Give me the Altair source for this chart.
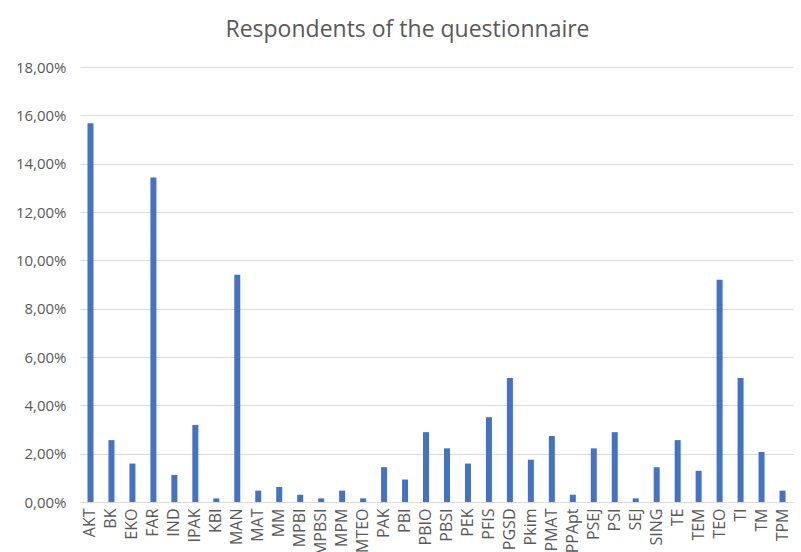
import altair as alt
import pandas as pd

categories = ["AKT", "BK", "EKO", "FAR", "IND", "IPAK", "KBI", "MAN", "MAT", "MM",
              "MPBI", "MPBSI", "MPM", "MTEO", "PAK", "PBI", "PBIO", "PBSI", "PEK", "PFIS",
              "PGSD", "Pkim", "PMAT", "PPApt", "PSEJ", "PSI", "SEJ", "SING", "TE", "TEM",
              "TEO", "TI", "TM", "TPM"]
values = [15.67, 2.56, 1.59, 13.43, 1.12, 3.19, 0.15, 9.40, 0.47, 0.62,
          0.30, 0.15, 0.47, 0.15, 1.44, 0.93, 2.89, 2.22, 1.59, 3.51,
          5.13, 1.75, 2.73, 0.30, 2.22, 2.89, 0.15, 1.44, 2.56, 1.29,
          9.20, 5.13, 2.07, 0.47]
y_ticks = [0, 2, 4, 6, 8, 10, 12, 14, 16, 18]

df = pd.DataFrame({"cat": categories, "val": values})

font = "Open Sans"
gray = "#595959"

chart = alt.Chart(df).mark_bar(color="#4472C4", size=6).encode(
    x=alt.X("cat:N", sort=categories, title=None,
            scale=alt.Scale(paddingInner=0, paddingOuter=0),
            axis=alt.Axis(labelAngle=-90, labelAlign="right", labelBaseline="middle",
                          labelPadding=6, labelFontSize=16, labelColor=gray, labelFont=font,
                          ticks=False, domainColor="#d9d9d9", domainWidth=1,
                          labelOverlap=False)),
    y=alt.Y("val:Q", title=None,
            scale=alt.Scale(domain=[0, 18], nice=False),
            axis=alt.Axis(values=y_ticks, labelExpr="replace(format(datum.value, '.2f'), '.', ',') + '%'",
                          labelFontSize=15, labelColor=gray, labelFont=font, labelPadding=14,
                          ticks=False, domain=False, gridColor="#d9d9d9", gridWidth=1)),
).properties(
    width=713, height=435,
    autosize=alt.AutoSizeParams(type="none"),
    padding={"left": 80, "top": 67, "right": 8, "bottom": 50},
    title=alt.TitleParams("Respondents of the questionnaire", fontSize=23, font=font,
                          color=gray, fontWeight="normal", offset=18, dx=-29),
).configure_view(stroke=None).configure_axis(labelFontWeight="normal")

chart.save("out.html", embed_options={"renderer": "svg", "actions": False})
